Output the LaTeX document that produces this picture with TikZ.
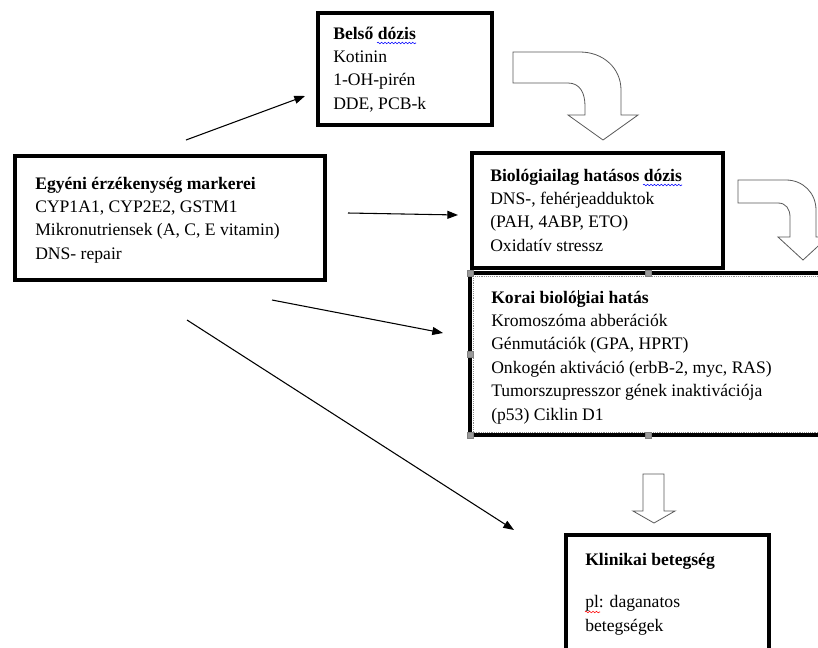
\documentclass[tikz,border=0pt]{standalone}
\usepackage{fontspec}
\setmainfont{Liberation Serif}
\usetikzlibrary{arrows.meta,positioning,calc,fit,decorations.pathmorphing}

\newcommand{\boxlines}[1]{\begin{tabular}[t]{@{}l@{}}#1\end{tabular}}

\tikzset{
  box/.style={draw, line width=2.6pt, inner sep=0pt},
  txt/.style={anchor=base west, inner sep=0pt,
    font=\fontsize{13.2}{17.6}\selectfont},
  conn/.style={line width=0.8pt, -{Triangle[length=8pt,width=6pt]}},
  bigarrow/.style={draw=black!65, line width=0.6pt, fill=white},
  handle/.style={draw=black!50, fill=black!40, minimum size=4.5pt, inner sep=0pt},
  squiggle/.style={line width=0.4pt, decorate,
    decoration={snake, amplitude=0.6pt, segment length=2.6pt}}
}

\begin{document}
\begin{tikzpicture}[x=0.75pt,y=-0.75pt]
\useasboundingbox (0,0) rectangle (818,647);

% Belso dozis
\node[box, fit={(318,13) (492,125)}] (belso) {};
\node[txt] (belsoTxt) at (333,39) {\boxlines{\textbf{Belső dózis}\\Kotinin\\1-OH-pirén\\DDE, PCB-k}};
\draw[squiggle, blue] ($(belsoTxt.base west)+(44,4)$) -- +(39,0);

% Egyeni erzekenyseg
\node[box, fit={(15,156) (325,280)}] (egyeni) {};
\node[txt] (egyeniTxt) at (35,189) {\boxlines{\textbf{Egyéni érzékenység markerei}\\CYP1A1, CYP2E2, GSTM1\\Mikronutriensek (A, C, E vitamin)\\DNS- repair}};

% Biologiailag hatasos dozis
\node[box, fit={(472,153) (723,268)}] (biohatas) {};
\node[txt] (biohatasTxt) at (490,181) {\boxlines{\textbf{Biológiailag hatásos dózis}\\DNS-, fehérjeadduktok\\(PAH, 4ABP, ETO)\\Oxidatív stressz}};
\draw[squiggle, blue] ($(biohatasTxt.base west)+(153,4)$) -- +(39,0);

% Korai biologiai hatas (selected frame)
\node[box, fit={(470,273) (840,435)}] (korai) {};
\draw[black!45, densely dotted, line width=0.4pt] (473,276) rectangle (840,432);
\foreach \p [count=\i] in {(470,273),(648,273),(470,354),(470,435),(648,435)}
    \node[handle] (h\i) at \p {};
\node[txt] (koraiTxt) at (491,303) {\boxlines{\textbf{Korai biológiai hatás}\\Kromoszóma abberációk\\Génmutációk (GPA, HPRT)\\Onkogén aktiváció (erbB-2, myc, RAS)\\Tumorszupresszor gének inaktivációja\\(p53) Ciklin D1}};
% text cursor
\draw[line width=0.5pt] ($(koraiTxt.base west)+(87,4)$) -- +(0,-17);

% Klinikai betegseg
\node[box, fit={(566,535) (769,670)}] (klinikai) {};
\node[txt] (klinikaiTxt) at (585,565) {\boxlines{\textbf{Klinikai betegség}\\[14.6pt]pl: daganatos\\betegségek}};
\draw[squiggle, red] ($(klinikaiTxt.base west)+(0,47)$) -- +(15,0);

% block arrows
\draw[bigarrow] (513,52) -- (580,52) .. controls (603,52) and (621,68) .. (621,90)
    -- (621,115) -- (638,115) -- (603,140) -- (568,115) -- (585,115) -- (585,106)
    .. controls (585,93) and (580,83) .. (568,83) -- (513,83) -- cycle;
\draw[bigarrow] (738,180) -- (786,180) .. controls (803,180) and (816,193) .. (816,210)
    -- (816,237) -- (828,237) -- (803,260) -- (778,237) -- (790,237) -- (790,217)
    .. controls (790,209) and (786,203) .. (778,203) -- (738,203) -- cycle;
\draw[bigarrow] (643,474) -- (664,474) -- (664,511) -- (675,511) -- (654,523)
    -- (633,511) -- (643,511) -- cycle;

% straight arrows
\coordinate (a1s) at (186,140); \coordinate (a1e) at (305,96);
\coordinate (a2s) at (348,213); \coordinate (a2e) at (458,215);
\coordinate (a3s) at (272,300); \coordinate (a3e) at (443,333);
\coordinate (a4s) at (187,320); \coordinate (a4e) at (514,530);
\draw[conn] (a1s) -- (a1e);
\draw[conn] (a2s) -- (a2e);
\draw[conn] (a3s) -- (a3e);
\draw[conn] (a4s) -- (a4e);
\end{tikzpicture}
\end{document}
